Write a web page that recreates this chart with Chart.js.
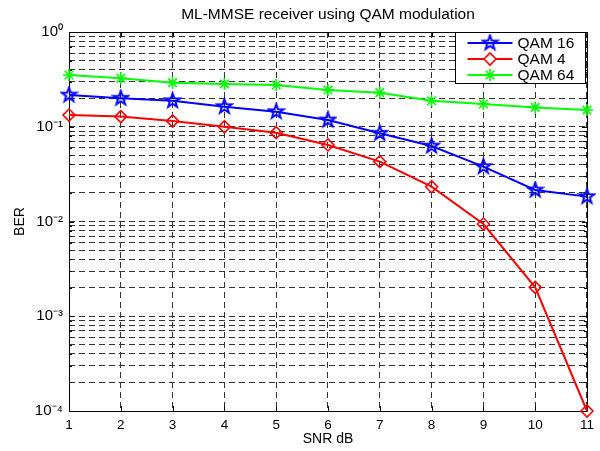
<!DOCTYPE html>
<html><head><meta charset="utf-8">
<script src="https://cdn.jsdelivr.net/npm/chart.js@4/dist/chart.umd.min.js"></script>
<style>html,body{margin:0;padding:0;background:#fff;}#wrap{width:600px;height:451px;position:relative;}</style>
</head><body><div id="wrap"><canvas id="c"></canvas></div>
<script>
// ---- data ----
const snr = [1, 2, 3, 4, 5, 6, 7, 8, 9, 10, 11];
const qam16 = [0.216, 0.200, 0.188, 0.163, 0.144, 0.118, 0.0853, 0.0626, 0.0379, 0.0215, 0.0183];
const qam4  = [0.133, 0.128, 0.115, 0.100, 0.0866, 0.0642, 0.0428, 0.0233, 0.0094, 0.00202, 0.0001];
const qam64 = [0.352, 0.325, 0.292, 0.283, 0.276, 0.244, 0.229, 0.188, 0.174, 0.160, 0.150];
const seriesNames = ['QAM 16', 'QAM 4', 'QAM 64'];
const xTicks = [1, 2, 3, 4, 5, 6, 7, 8, 9, 10, 11];
const yDecadeExps = [-4, -3, -2, -1, 0];
const yDecadeLabels = ['10\u207B\u2074', '10\u207B\u00B3', '10\u207B\u00B2', '10\u207B\u00B9', '10\u2070'];
const titleText = 'ML-MMSE receiver using QAM modulation';
const xTitle = 'SNR dB';
const yTitle = 'BER';

const FONT = 'Liberation Sans, Arial, Helvetica, sans-serif';
const BLUE = '#0000ff', RED = '#ff0000', GREEN = '#00ff00';

// pentagram marker image
function makeStar(color, R) {
  const c = document.createElement('canvas');
  const s = Math.ceil(2 * R + 4);
  c.width = s; c.height = s;
  const g = c.getContext('2d');
  const cx = s / 2, cy = s / 2, r = R * 0.40;
  g.beginPath();
  for (let i = 0; i < 10; i++) {
    const a = -Math.PI / 2 + i * Math.PI / 5;
    const rr = i % 2 === 0 ? R : r;
    const px = cx + rr * Math.cos(a), py = cy + rr * Math.sin(a);
    if (i === 0) g.moveTo(px, py); else g.lineTo(px, py);
  }
  g.closePath();
  g.strokeStyle = color; g.lineWidth = 2; g.lineJoin = 'miter';
  g.stroke();
  return c;
}
const starImg = makeStar(BLUE, 7.5);

// all log ticks (1..9 x 10^k)
function logTicks() {
  const out = [];
  for (let k = 0; k < yDecadeExps.length - 1; k++) {
    const base = Math.pow(10, yDecadeExps[k]);
    for (let m = 1; m <= 9; m++) out.push({ value: m * base });
  }
  out.push({ value: Math.pow(10, yDecadeExps[yDecadeExps.length - 1]) });
  return out;
}

const frameLegend = {
  id: 'frameLegend',
  beforeDatasetsDraw(chart) {
    const { ctx, chartArea: a, scales } = chart;
    ctx.save();
    ctx.setLineDash([]);
    ctx.strokeStyle = '#000'; ctx.lineWidth = 1;
    ctx.beginPath();
    scales.x.ticks.forEach(t => {
      const px = Math.round(scales.x.getPixelForValue(t.value)) + 0.5;
      ctx.moveTo(px, a.bottom); ctx.lineTo(px, a.bottom - 5);
      ctx.moveTo(px, a.top); ctx.lineTo(px, a.top + 5);
    });
    scales.y.ticks.forEach(t => {
      const py = Math.round(scales.y.getPixelForValue(t.value)) + 0.5;
      const major = t.label !== '';
      const len = major ? 5 : 3;
      ctx.moveTo(a.left, py); ctx.lineTo(a.left + len, py);
      ctx.moveTo(a.right, py); ctx.lineTo(a.right - len, py);
    });
    ctx.stroke();
    ctx.strokeRect(Math.round(a.left) + 0.5, Math.round(a.top) + 0.5,
      Math.round(a.right - a.left), Math.round(a.bottom - a.top));
    ctx.restore();
  },
  afterDatasetsDraw(chart) {
    const { ctx, chartArea: a } = chart;
    const w = 130, h = 51;
    const x0 = Math.round(a.right - 2 - w) + 0.5, y0 = Math.round(a.top) + 0.5;
    ctx.save();
    ctx.setLineDash([]);
    ctx.fillStyle = '#fff';
    ctx.fillRect(x0, y0, w, h);
    ctx.strokeStyle = '#000'; ctx.lineWidth = 1;
    ctx.strokeRect(x0, y0, w, h);
    chart.data.datasets.forEach((ds, i) => {
      const yy = y0 + 10.5 + i * 16;
      const lx1 = x0 + 12, lx2 = x0 + 57, mx = (lx1 + lx2) / 2;
      ctx.strokeStyle = ds.borderColor; ctx.lineWidth = 2;
      ctx.beginPath(); ctx.moveTo(lx1, yy); ctx.lineTo(lx2, yy); ctx.stroke();
      ctx.lineWidth = 1.6;
      if (ds.pointStyle === 'rectRot') {
        const r = 6;
        ctx.fillStyle = '#fff';
        ctx.beginPath();
        ctx.moveTo(mx - r, yy); ctx.lineTo(mx, yy - r); ctx.lineTo(mx + r, yy); ctx.lineTo(mx, yy + r);
        ctx.closePath(); ctx.fill(); ctx.stroke();
      } else if (ds.pointStyle === 'star') {
        const r = 6, d = r * Math.SQRT1_2;
        ctx.beginPath();
        ctx.moveTo(mx - r, yy); ctx.lineTo(mx + r, yy);
        ctx.moveTo(mx, yy - r); ctx.lineTo(mx, yy + r);
        ctx.moveTo(mx - d, yy - d); ctx.lineTo(mx + d, yy + d);
        ctx.moveTo(mx - d, yy + d); ctx.lineTo(mx + d, yy - d);
        ctx.stroke();
      } else if (ds.pointStyle && ds.pointStyle.width) {
        ctx.drawImage(ds.pointStyle, mx - ds.pointStyle.width / 2, yy - ds.pointStyle.height / 2);
      }
      ctx.fillStyle = '#000';
      ctx.font = '15.5px ' + FONT;
      ctx.textBaseline = 'middle';
      ctx.textAlign = 'left';
      ctx.fillText(ds.label, x0 + 62, yy + 0.5);
    });
    ctx.restore();
  }
};

const pts = arr => snr.map((x, i) => ({ x: x, y: arr[i] }));

new Chart(document.getElementById('c'), {
  type: 'line',
  data: {
    datasets: [
      { label: seriesNames[0], data: pts(qam16), borderColor: BLUE, backgroundColor: BLUE,
        borderWidth: 2, pointStyle: starImg, pointRadius: 7, clip: false },
      { label: seriesNames[1], data: pts(qam4), borderColor: RED, backgroundColor: 'rgba(0,0,0,0)',
        pointBackgroundColor: 'rgba(255,255,255,0)', borderWidth: 2, pointStyle: 'rectRot', pointRadius: 6,
        pointBorderWidth: 1.6, clip: false },
      { label: seriesNames[2], data: pts(qam64), borderColor: GREEN, backgroundColor: GREEN,
        borderWidth: 2, pointStyle: 'star', pointRadius: 6, pointBorderWidth: 1.6, clip: false }
    ]
  },
  options: {
    responsive: true,
    maintainAspectRatio: false,
    animation: false,
    events: [],
    layout: { padding: { top: 0, right: 12, bottom: 0, left: 0 } },
    plugins: {
      legend: { display: false },
      tooltip: { enabled: false },
      title: {
        display: true, text: titleText, fullSize: false, color: '#000',
        font: { family: FONT, size: 15.5, weight: 'normal' },
        padding: { top: 5.7, bottom: 7.7 }
      }
    },
    scales: {
      x: {
        type: 'linear', min: xTicks[0], max: xTicks[xTicks.length - 1],
        afterBuildTicks: s => { s.ticks = xTicks.map(v => ({ value: v })); },
        afterFit: s => { s.height = 40; },
        ticks: { color: '#000', font: { family: FONT, size: 13.5 }, padding: 6, autoSkip: false, maxRotation: 0,
          callback: v => String(v) },
        grid: { color: '#333', lineWidth: 1, drawTicks: false },
        border: { display: false, dash: [6, 4] },
        title: { display: true, text: xTitle, color: '#000', font: { family: FONT, size: 14 },
          padding: { top: 0, bottom: 3 } }
      },
      y: {
        type: 'logarithmic', min: Math.pow(10, yDecadeExps[0]), max: Math.pow(10, yDecadeExps[yDecadeExps.length - 1]),
        afterBuildTicks: s => { s.ticks = logTicks(); },
        afterFit: s => { s.width = 69; },
        ticks: { color: '#000', font: { family: FONT, size: 15 }, padding: 6, autoSkip: false,
          callback: v => {
            const e = Math.round(Math.log10(v));
            const idx = yDecadeExps.indexOf(e);
            return (idx >= 0 && Math.abs(v / Math.pow(10, e) - 1) < 1e-6) ? yDecadeLabels[idx] : '';
          } },
        grid: { color: '#333', lineWidth: 1, drawTicks: false },
        border: { display: false, dash: [6, 4] },
        title: { display: true, text: yTitle, color: '#000', font: { family: FONT, size: 14 },
          padding: { top: 12, bottom: 0 } }
      }
    }
  },
  plugins: [frameLegend]
});
</script>
</body></html>
